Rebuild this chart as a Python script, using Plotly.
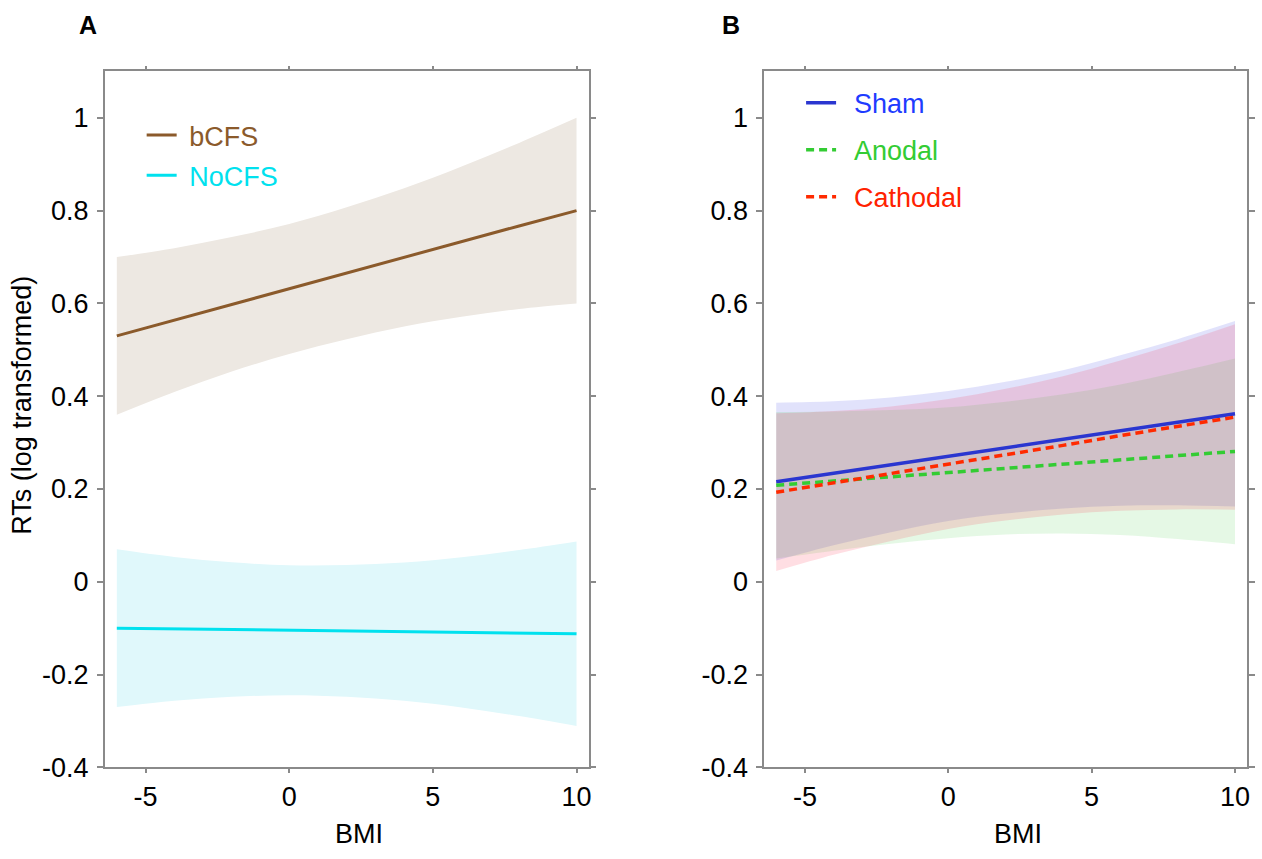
import plotly.graph_objects as go

# ---------------- data ----------------
bmi = [-6, -4, -2, 0, 2, 4, 6, 8, 10]

# Panel A
bcfs_fit = [0.530, 0.564, 0.598, 0.631, 0.665, 0.699, 0.733, 0.767, 0.800]
bcfs_hi = [0.700, 0.719, 0.743, 0.771, 0.807, 0.848, 0.895, 0.946, 1.000]
bcfs_lo = [0.360, 0.409, 0.453, 0.491, 0.523, 0.550, 0.571, 0.588, 0.600]

nocfs_fit = [-0.100, -0.1015, -0.103, -0.1045, -0.106, -0.1075, -0.109, -0.1105, -0.112]
nocfs_hi = [0.070, 0.0535, 0.042, 0.0355, 0.036, 0.0415, 0.053, 0.0685, 0.087]
nocfs_lo = [-0.270, -0.2565, -0.248, -0.2445, -0.248, -0.2565, -0.271, -0.2895, -0.311]

# Panel B
sham_fit = [0.2155, 0.234, 0.252, 0.271, 0.289, 0.307, 0.326, 0.344, 0.362]
sham_hi = [0.386, 0.389, 0.397, 0.411, 0.431, 0.456, 0.488, 0.523, 0.562]
sham_lo = [0.046, 0.079, 0.107, 0.131, 0.147, 0.158, 0.164, 0.165, 0.162]

anodal_fit = [0.208, 0.217, 0.226, 0.235, 0.245, 0.254, 0.263, 0.272, 0.281]
anodal_hi = [0.366, 0.367, 0.370, 0.376, 0.388, 0.404, 0.425, 0.452, 0.481]
anodal_lo = [0.050, 0.067, 0.082, 0.094, 0.102, 0.104, 0.101, 0.092, 0.081]

cathodal_fit = [0.193, 0.213, 0.233, 0.254, 0.274, 0.294, 0.315, 0.335, 0.355]
cathodal_hi = [0.363, 0.368, 0.378, 0.394, 0.416, 0.443, 0.477, 0.514, 0.555]
cathodal_lo = [0.023, 0.058, 0.088, 0.114, 0.132, 0.145, 0.153, 0.156, 0.155]

x_ticks = [-5, 0, 5, 10]
x_ticktext = ["-5", "0", "5", "10"]
y_ticks = [-0.4, -0.2, 0, 0.2, 0.4, 0.6, 0.8, 1.0]
y_ticktext = ["-0.4", "-0.2", "0", "0.2", "0.4", "0.6", "0.8", "1"]

FONT = "Liberation Sans, Arial, sans-serif"
FS = 27
W, H = 1262, 859
SP_A = "\u00a0"
SP_B = "\u00a0\u2009"

fig = go.Figure()


def band(x, lo, hi, fillcolor, xa, ya):
    fig.add_trace(go.Scatter(x=x, y=lo, mode="lines", line=dict(width=0, shape="spline"),
                             showlegend=False, hoverinfo="skip", xaxis=xa, yaxis=ya))
    fig.add_trace(go.Scatter(x=x, y=hi, mode="lines", line=dict(width=0, shape="spline"),
                             fill="tonexty", fillcolor=fillcolor, showlegend=False,
                             hoverinfo="skip", xaxis=xa, yaxis=ya))


# Panel A bands + lines
band(bmi, bcfs_lo, bcfs_hi, "rgb(237,232,226)", "x", "y")
band(bmi, nocfs_lo, nocfs_hi, "rgb(224,248,251)", "x", "y")
fig.add_trace(go.Scatter(x=bmi, y=bcfs_fit, mode="lines",
                         line=dict(color="#8B5A2B", width=3),
                         name=SP_A + "<span style='color:#8B5A2B'>bCFS</span>",
                         legend="legend", legendgroup="a1", xaxis="x", yaxis="y"))
fig.add_trace(go.Scatter(x=bmi, y=nocfs_fit, mode="lines",
                         line=dict(color="#00E1EE", width=3),
                         name=SP_A + "<span style='color:#00E1EE'>NoCFS</span>",
                         legend="legend", legendgroup="a2", xaxis="x", yaxis="y"))

# Panel B bands + lines
band(bmi, sham_lo, sham_hi, "rgba(40,50,230,0.14)", "x2", "y2")
band(bmi, anodal_lo, anodal_hi, "rgba(40,200,40,0.12)", "x2", "y2")
band(bmi, cathodal_lo, cathodal_hi, "rgba(255,0,40,0.13)", "x2", "y2")
fig.add_trace(go.Scatter(x=bmi, y=sham_fit, mode="lines",
                         line=dict(color="#2A36D0", width=3.5),
                         name=SP_B + "<span style='color:#1E3CFF'>Sham</span>",
                         legend="legend2", legendgroup="b1", xaxis="x2", yaxis="y2"))
fig.add_trace(go.Scatter(x=bmi, y=anodal_fit, mode="lines",
                         line=dict(color="#33CC33", width=3.5, dash="8px,5px"),
                         name=SP_B + "<span style='color:#33CC33'>Anodal</span>",
                         legend="legend2", legendgroup="b2", xaxis="x2", yaxis="y2"))
fig.add_trace(go.Scatter(x=bmi, y=cathodal_fit, mode="lines",
                         line=dict(color="#FF2A00", width=3.5, dash="8px,5px"),
                         name=SP_B + "<span style='color:#FF2200'>Cathodal</span>",
                         legend="legend2", legendgroup="b3", xaxis="x2", yaxis="y2"))

xdomA = [105 / W, 590 / W]
xdomB = [766 / W, 1250 / W]
ydom = [1 - 781 / H, 1 - 72.7 / H]

axis_common = dict(showline=True, linecolor="#8a8a8a", linewidth=1.5, mirror="ticks",
                   ticks="outside", tickcolor="#8a8a8a", tickwidth=1.5,
                   showgrid=False, zeroline=False,
                   tickfont=dict(family=FONT, size=FS, color="black"))

xax = dict(axis_common, range=[-6.42, 10.42], tickvals=x_ticks, ticktext=x_ticktext,
           ticklen=4, ticklabelstandoff=0)
yax = dict(axis_common, range=[-0.4, 1.1], tickvals=y_ticks, ticktext=y_ticktext,
           ticklen=6, ticklabelstandoff=3)

fig.update_layout(
    width=W, height=H, margin=dict(l=0, r=0, t=0, b=0),
    paper_bgcolor="white", plot_bgcolor="white",
    font=dict(family=FONT, size=FS, color="black"),
    xaxis=dict(xax, domain=xdomA, anchor="y"),
    yaxis=dict(yax, domain=ydom, anchor="x"),
    xaxis2=dict(xax, domain=xdomB, anchor="y2"),
    yaxis2=dict(yax, domain=ydom, anchor="x2"),
    legend=dict(x=142 / W, y=1 - 113 / H, xanchor="left", yanchor="top",
                bgcolor="rgba(0,0,0,0)", font=dict(family=FONT, size=FS),
                traceorder="grouped", tracegroupgap=2, itemwidth=30),
    legend2=dict(x=803 / W, y=1 - 80 / H, xanchor="left", yanchor="top",
                 bgcolor="rgba(0,0,0,0)", font=dict(family=FONT, size=FS),
                 traceorder="grouped", tracegroupgap=9, itemwidth=30),
    annotations=[
        dict(text="<b>A</b>", x=88 / W, y=1 - 25 / H, xref="paper", yref="paper",
             xanchor="center", yanchor="middle",
             showarrow=False, font=dict(family=FONT, size=25)),
        dict(text="<b>B</b>", x=733 / W, y=1 - 25 / H, xref="paper", yref="paper",
             xanchor="center", yanchor="middle",
             showarrow=False, font=dict(family=FONT, size=25)),
        dict(text="BMI", x=360 / W, y=1 - 849 / H, xref="paper", yref="paper",
             xanchor="center", yanchor="middle",
             showarrow=False, font=dict(family=FONT, size=FS)),
        dict(text="BMI", x=1020 / W, y=1 - 849 / H, xref="paper", yref="paper",
             xanchor="center", yanchor="middle",
             showarrow=False, font=dict(family=FONT, size=FS)),
        dict(text="RTs (log transformed)", x=22 / W, y=1 - 412 / H, xref="paper",
             yref="paper", xanchor="center", yanchor="middle", textangle=-90,
             showarrow=False, font=dict(family=FONT, size=FS)),
    ],
)

fig.write_html("out.html")
